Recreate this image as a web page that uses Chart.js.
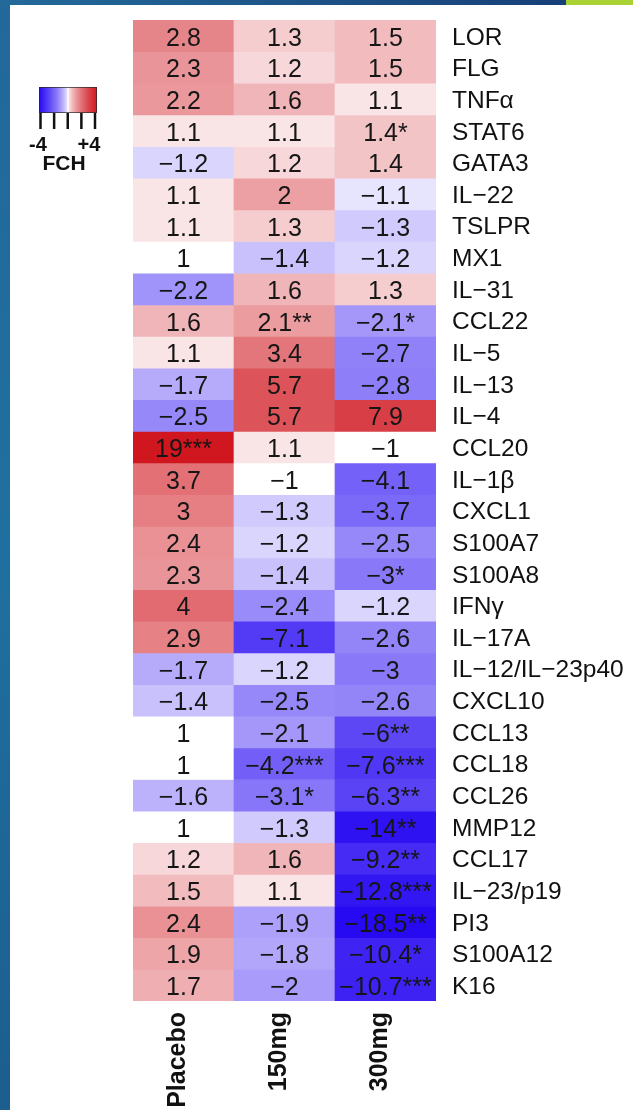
<!DOCTYPE html>
<html>
<head>
<meta charset="utf-8">
<script src="https://cdn.jsdelivr.net/npm/chart.js@4.4.1/dist/chart.umd.min.js"></script>
<style>
  html, body { margin: 0; padding: 0; background: #fff; width: 633px; height: 1110px; overflow: hidden; }
  #wrap { position: relative; width: 633px; height: 1110px; }
  canvas { position: absolute; left: 0; top: 0; }
  #side { position: absolute; left: 0; top: 0; width: 10px; height: 1110px;
          background: linear-gradient(180deg, #23689a 0%, #1f70a0 50%, #1c5e8e 100%); }
  #topbar { position: absolute; left: 0; top: 0; width: 566px; height: 5px;
            background: linear-gradient(90deg, #236a9a 0%, #173f78 100%); }
  #accent { position: absolute; left: 566px; top: 0; width: 67px; height: 5px; background: #a9d133; }
</style>
</head>
<body>
<div id="wrap">
  <canvas id="c" width="633" height="1110"></canvas>
  <div id="side"></div>
  <div id="topbar"></div>
  <div id="accent"></div>
</div>
<script>
// Genes (rows, top to bottom)
const genes = ['LOR', 'FLG', 'TNF\u03b1', 'STAT6', 'GATA3', 'IL\u221222', 'TSLPR', 'MX1', 'IL\u221231',
  'CCL22', 'IL\u22125', 'IL\u221213', 'IL\u22124', 'CCL20', 'IL\u22121\u03b2', 'CXCL1', 'S100A7',
  'S100A8', 'IFN\u03b3', 'IL\u221217A', 'IL\u221212/IL\u221223p40', 'CXCL10', 'CCL13', 'CCL18',
  'CCL26', 'MMP12', 'CCL17', 'IL\u221223/p19', 'PI3', 'S100A12', 'K16'];

// Treatment groups (columns)
const groups = ['Placebo', '150mg', '300mg'];

// Fold change (FCH) per gene
const fchPlacebo = [2.8, 2.3, 2.2, 1.1, -1.2, 1.1, 1.1, 1, -2.2, 1.6, 1.1, -1.7, -2.5, 19, 3.7, 3,
  2.4, 2.3, 4, 2.9, -1.7, -1.4, 1, 1, -1.6, 1, 1.2, 1.5, 2.4, 1.9, 1.7];
const fch150 = [1.3, 1.2, 1.6, 1.1, 1.2, 2, 1.3, -1.4, 1.6, 2.1, 3.4, 5.7, 5.7, 1.1, -1, -1.3,
  -1.2, -1.4, -2.4, -7.1, -1.2, -2.5, -2.1, -4.2, -3.1, -1.3, 1.6, 1.1, -1.9, -1.8, -2];
const fch300 = [1.5, 1.5, 1.1, 1.4, 1.4, -1.1, -1.3, -1.2, 1.3, -2.1, -2.7, -2.8, 7.9, -1, -4.1,
  -3.7, -2.5, -3, -1.2, -2.6, -3, -2.6, -6, -7.6, -6.3, -14, -9.2, -12.8, -18.5, -10.4, -10.7];

// Significance marks per gene
const sigPlacebo = ['', '', '', '', '', '', '', '', '', '', '', '', '', '***', '', '', '',
  '', '', '', '', '', '', '', '', '', '', '', '', '', ''];
const sig150 = ['', '', '', '', '', '', '', '', '', '**', '', '', '', '', '', '', '',
  '', '', '', '', '', '', '***', '*', '', '', '', '', '', ''];
const sig300 = ['', '', '', '*', '', '', '', '', '', '*', '', '', '', '', '', '', '',
  '*', '', '', '', '', '**', '***', '**', '**', '**', '***', '**', '*', '***'];

// Colour key range (log2 fold change)
const keyRange = [-4, 4];
const keyTicks = [-4, -2, 0, 2, 4];
const keyLabels = ['-4', '+4'];
const keyTitle = 'FCH';

const groupValues = [fchPlacebo, fch150, fch300];
const groupSig = [sigPlacebo, sig150, sig300];

const FONT = '"Liberation Sans", Arial, Helvetica, sans-serif';
const BLUE = [40, 10, 242];
const RED = [208, 22, 30];

function colourForLog(l) {
  let t = Math.min(1, Math.abs(l) / 4);
  t = Math.pow(t, 0.65);
  const end = l < 0 ? BLUE : RED;
  const c = end.map(e => Math.round(255 + (e - 255) * t));
  return 'rgb(' + c.join(',') + ')';
}
function fchColour(v) {
  return colourForLog(Math.sign(v) * Math.log2(Math.abs(v)));
}
function fmt(v) {
  return String(v).replace('-', '\u2212');
}

// Each gene is a stack of unit cells, one per treatment group
const datasets = genes.map((g, i) => ({
  label: g,
  data: groups.map(() => 1),
  backgroundColor: groupValues.map(col => fchColour(col[i])),
  borderWidth: 0,
  barPercentage: 1,
  categoryPercentage: 1
}));

const cellLabels = {
  id: 'cellLabels',
  afterDatasetsDraw(chart) {
    const ctx = chart.ctx;
    ctx.save();
    ctx.font = '25px ' + FONT;
    ctx.fillStyle = '#161616';
    ctx.textAlign = 'center';
    ctx.textBaseline = 'middle';
    chart.data.datasets.forEach((ds, i) => {
      chart.getDatasetMeta(i).data.forEach((bar, j) => {
        const txt = fmt(groupValues[j][i]) + groupSig[j][i];
        ctx.fillText(txt, bar.x, (bar.y + bar.base) / 2 + 3);
      });
    });
    ctx.restore();
  }
};

const colourKey = {
  id: 'colourKey',
  afterDraw(chart) {
    const ctx = chart.ctx;
    const x0 = 39, x1 = 97, y0 = 87, y1 = 113;
    ctx.save();
    const grad = ctx.createLinearGradient(x0, 0, x1, 0);
    for (let k = 0; k <= 40; k++) {
      const l = keyRange[0] + (keyRange[1] - keyRange[0]) * k / 40;
      grad.addColorStop(k / 40, colourForLog(l));
    }
    ctx.fillStyle = grad;
    ctx.fillRect(x0, y0, x1 - x0, y1 - y0);
    ctx.strokeStyle = 'rgba(40,40,40,0.7)';
    ctx.lineWidth = 1;
    ctx.strokeRect(x0 + 0.5, y0 + 0.5, x1 - x0 - 1, y1 - y0 - 1);
    // tick marks
    ctx.lineWidth = 2.5;
    ctx.strokeStyle = '#111';
    const span = keyRange[1] - keyRange[0];
    keyTicks.forEach(v => {
      const x = 40.5 + (95 - 40.5) * (v - keyRange[0]) / span;
      ctx.beginPath();
      ctx.moveTo(x, y1);
      ctx.lineTo(x, 129);
      ctx.stroke();
    });
    ctx.fillStyle = '#111';
    ctx.textAlign = 'center';
    ctx.textBaseline = 'middle';
    ctx.font = 'bold 20px ' + FONT;
    ctx.fillText(keyLabels[0], 38, 145);
    ctx.fillText(keyLabels[1], 89, 145);
    ctx.font = 'bold 21px ' + FONT;
    ctx.fillText(keyTitle, 64, 164);
    ctx.restore();
  }
};

new Chart(document.getElementById('c'), {
  type: 'bar',
  data: { labels: groups, datasets },
  options: {
    responsive: false,
    animation: false,
    devicePixelRatio: 1,
    layout: { padding: { left: 133, top: 20, right: 0, bottom: 0 } },
    plugins: { legend: { display: false }, tooltip: { enabled: false } },
    scales: {
      x: {
        stacked: true,
        grid: { display: false, drawTicks: false },
        border: { display: false },
        ticks: {
          minRotation: 90, maxRotation: 90, padding: 11, labelOffset: -5,
          color: '#111',
          font: { family: FONT, size: 25, weight: 'bold' }
        },
        afterFit(s) { s.height = 109; }
      },
      y: {
        stacked: true,
        display: false,
        min: 0,
        max: genes.length,
        reverse: true
      },
      genes: {
        type: 'category',
        axis: 'y',
        labels: genes,
        position: 'right',
        offset: true,
        grid: { display: false, drawTicks: false },
        border: { display: false },
        ticks: {
          autoSkip: false, padding: 16, labelOffset: 2,
          color: '#111',
          font: { family: FONT, size: 24.5 }
        },
        afterFit(s) { s.width = 197; s.paddingTop = 0; s.paddingBottom = 0; }
      }
    }
  },
  plugins: [cellLabels, colourKey]
});
</script>
</body>
</html>
